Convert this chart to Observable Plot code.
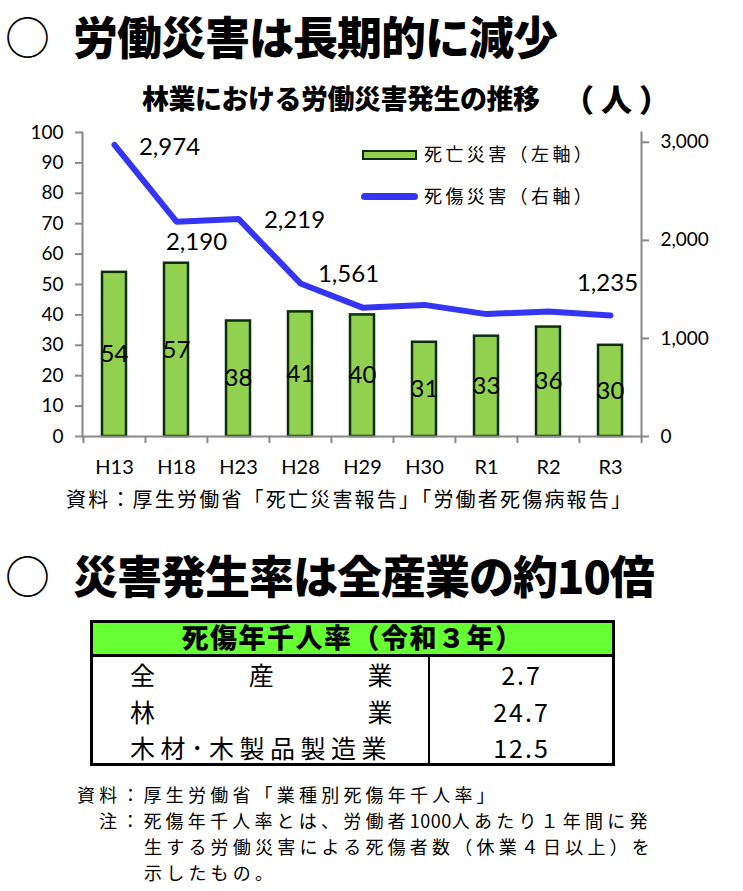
<!DOCTYPE html>
<html>
<head>
<meta charset="utf-8">
<script src="https://cdn.jsdelivr.net/npm/d3@7"></script>
<script src="https://cdn.jsdelivr.net/npm/@observablehq/plot@0.6"></script>
<style>
  html, body { margin: 0; padding: 0; background: #fff; }
  body { width: 743px; height: 891px; position: relative; overflow: hidden;
         font-family: "Noto Sans CJK JP", sans-serif; color: #000; }
  .abs { position: absolute; white-space: nowrap; line-height: 1; }
  .ttl { font-size: 45px; font-weight: 900; letter-spacing: -1px; }
  .circ { font-size: 45px; font-weight: 400; }
  .sub { font-size: 27px; font-weight: 900; letter-spacing: -0.5px; }
  .unit { font-size: 31px; font-weight: 900; letter-spacing: 7px; }
  .leg { font-size: 18px; font-weight: 400; letter-spacing: 3.4px; }
  .src { font-size: 20px; font-weight: 400; letter-spacing: 2.2px; }
  .note { font-size: 18px; font-weight: 400; letter-spacing: 4.2px; }
  .num { letter-spacing: 0.5px; }
  #chart { position: absolute; left: 0; top: 120px; }
  #table { position: absolute; left: 90px; top: 620px; width: 525px; height: 146px;
           border: 3px solid #000; box-sizing: border-box; }
  .thead { position: absolute; left: 0; top: 0; width: 100%; height: 31px; background: #66ff33;
           border-bottom: 3px solid #000; text-align: center;
           font-size: 27px; font-weight: 900; line-height: 1; letter-spacing: 1.5px; }
  .row { position: absolute; left: 0; width: 100%; font-size: 25px; line-height: 1; font-weight: 400; }
  .lab { position: absolute; left: 37px; width: 268px; display: flex; justify-content: space-between; }
  .lab span { letter-spacing: 5.5px; }
  .val { position: absolute; left: 335px; width: 187px; text-align: center; letter-spacing: 2px; }
  .divider { position: absolute; left: 335px; top: 34px; width: 1.5px; height: 109px; background: #000; }
</style>
</head>
<body>
<div class="abs circ" style="left:5px;top:13px;">○</div>
<div class="abs ttl" style="left:73px;top:13px;">労働災害は長期的に減少</div>
<div class="abs sub" style="left:142px;top:84px;">林業における労働災害発生の推移</div>
<div class="abs unit" style="left:563px;top:82px;">（人）</div>

<div id="chart"></div>

<div class="abs" style="left:362px;top:150px;width:55px;height:10px;background:#92d050;border:2.5px solid #0d2d0d;box-sizing:border-box;"></div>
<div class="abs leg" style="left:424px;top:144px;">死亡災害（左軸）</div>
<div class="abs" style="left:361px;top:192.5px;width:57px;height:7px;background:#3535f5;border-radius:3.5px;"></div>
<div class="abs leg" style="left:424px;top:186px;">死傷災害（右軸）</div>

<div class="abs src" style="left:66px;top:489px;">資料：厚生労働省「死亡災害報告」「労働者死傷病報告」</div>

<div class="abs circ" style="left:5px;top:552px;">○</div>
<div class="abs ttl" style="left:73px;top:552px;">災害発生率は全産業の約10倍</div>

<div id="table"></div>

<div class="abs note" style="left:77px;top:785px;">資料：厚生労働省「業種別死傷年千人率」</div>
<div class="abs note" style="left:99px;top:811px;">注：死傷年千人率とは、労働者<span class="num">1000</span>人あたり１年間に発</div>
<div class="abs note" style="left:144px;top:837px;">生する労働災害による死傷者数（休業４日以上）を</div>
<div class="abs note" style="left:144px;top:863px;">示したもの。</div>

<script>
// ---- data ----
const categories = ["H13", "H18", "H23", "H28", "H29", "H30", "R1", "R2", "R3"];
const deaths = [54, 57, 38, 41, 40, 31, 33, 36, 30];          // 死亡災害（左軸）
const injuries = [2974, 2190, 2219, 1561, 1314, 1342, 1248, 1275, 1235]; // 死傷災害（右軸）
const leftTicks = [0, 10, 20, 30, 40, 50, 60, 70, 80, 90, 100];
const rightTicks = [0, 1000, 2000, 3000];
const leftMax = 100;
const rightMax = 3100;
const labeledYears = ["H13", "H18", "H23", "H28", "R3"];

const tableHeader = "死傷年千人率（令和３年）";
const tableLabels = [["全", "産", "業"], ["林", "業"], ["木材･木製品製造業"]];
const tableValues = ["2.7", "24.7", "12.5"];

// ---- chart ----
const toLeft = v => v * leftMax / rightMax;
const data = categories.map((c, i) => ({cat: c, deaths: deaths[i], injuries: injuries[i]}));

const W = 743, mL = 82, mR = 102, mT = 12, mB = 44, H = 360;
const step = (W - mL - mR) / categories.length;
const gray = "#888888";
const labelStyle = {
  H13: {dx: 55, dy: 2},
  H18: {dx: 20, dy: 21},
  H23: {dx: 56, dy: 1},
  H28: {dx: 48, dy: -9},
  R3: {dx: -3, dy: -32}
};

const lineLabelMarks = labeledYears.map(y => Plot.text(data.filter(d => d.cat === y), {
  x: "cat", y: d => toLeft(d.injuries), text: d => d3.format(",")(d.injuries),
  dx: labelStyle[y].dx, dy: labelStyle[y].dy, fontSize: 24, fill: "#000"
}));

const chart = Plot.plot({
  width: W, height: H,
  marginLeft: mL, marginRight: mR, marginTop: mT, marginBottom: mB,
  style: {fontFamily: "Lato, 'Open Sans', sans-serif", fontSize: "19px", color: "#000", background: "transparent", overflow: "visible"},
  x: {domain: categories, padding: 0},
  y: {domain: [0, leftMax]},
  marks: [
    Plot.barY(data, {x: "cat", y: "deaths", fill: "#92d050", stroke: "#0d2d0d", strokeWidth: 2.5, insetLeft: 19, insetRight: 19}),
    Plot.text(data, {x: "cat", y: d => d.deaths / 2, text: d => String(d.deaths), fontSize: 24, fill: "#000"}),
    Plot.line(data, {x: "cat", y: d => toLeft(d.injuries), stroke: "#3535f5", strokeWidth: 6, strokeLinejoin: "round", strokeLinecap: "round"}),
    ...lineLabelMarks,
    Plot.frame({anchor: "left", stroke: gray, strokeWidth: 2}),
    Plot.frame({anchor: "right", stroke: gray, strokeWidth: 2}),
    Plot.ruleY([0], {stroke: gray, strokeWidth: 2}),
    Plot.axisY({anchor: "left", ticks: leftTicks, tickSize: 7, tickPadding: 12, stroke: gray, strokeWidth: 2, fill: "#000", fontSize: 19, label: null}),
    Plot.axisY({anchor: "right", ticks: rightTicks.map(toLeft), tickFormat: d => d3.format(",")(Math.round(d * rightMax / leftMax)),
      tickSize: 7, tickPadding: 12, stroke: gray, strokeWidth: 2, fill: "#000", fontSize: 19, label: null}),
    Plot.axisX({tickSize: 0, tickPadding: 23, fontSize: 20, fill: "#000", label: null}),
    Plot.axisX({tickSize: 7, tickFormat: () => "", dx: -step / 2, stroke: gray, strokeWidth: 2, label: null}),
    Plot.axisX({ticks: [categories[categories.length - 1]], tickSize: 7, tickFormat: () => "", dx: step / 2, stroke: gray, strokeWidth: 2, label: null})
  ]
});
document.getElementById("chart").appendChild(chart);

// ---- table ----
const table = document.getElementById("table");
const head = document.createElement("div");
head.className = "thead";
head.textContent = tableHeader;
table.appendChild(head);
const rowTops = [39, 75.5, 112];
tableLabels.forEach((parts, i) => {
  const row = document.createElement("div");
  row.className = "row";
  row.style.top = rowTops[i] + "px";
  const lab = document.createElement("div");
  lab.className = "lab";
  parts.forEach(p => { const s = document.createElement("span"); s.textContent = p; lab.appendChild(s); });
  const val = document.createElement("div");
  val.className = "val";
  val.textContent = tableValues[i];
  row.appendChild(lab);
  row.appendChild(val);
  table.appendChild(row);
});
const dv = document.createElement("div");
dv.className = "divider";
table.appendChild(dv);
</script>
</body>
</html>
